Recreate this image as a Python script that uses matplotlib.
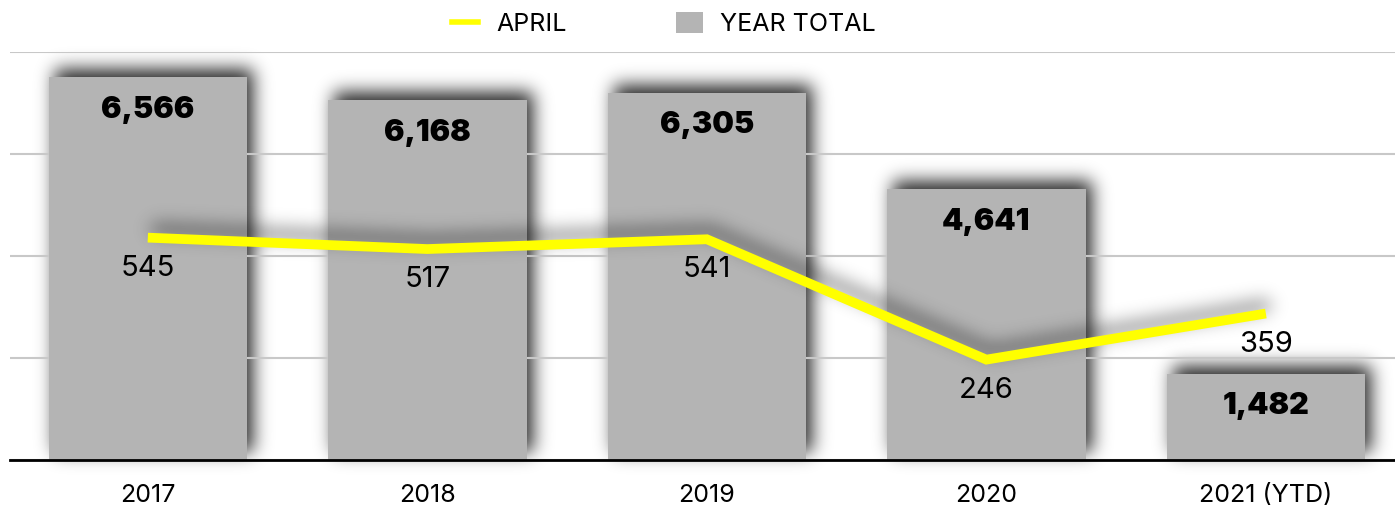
import numpy as np
import matplotlib
matplotlib.use("Agg")
import matplotlib.pyplot as plt
from matplotlib.lines import Line2D
from matplotlib.patches import Patch

# ---- data ----
categories = ["2017", "2018", "2019", "2020", "2021 (YTD)"]
year_total = [6566, 6168, 6305, 4641, 1482]
april = [545, 517, 541, 246, 359]

BAR_COLOR = "#b4b4b4"
LINE_COLOR = "#ffff00"
REG_FONT = ["Inter", "DejaVu Sans"]
BOLD_FONT = ["Inter", "DejaVu Sans"]


def gauss_blur(a, sigma):
    r = int(3 * sigma)
    x = np.arange(-r, r + 1)
    k = np.exp(-x ** 2 / (2.0 * sigma ** 2))
    k /= k.sum()
    out = np.zeros_like(a)
    for i, w in enumerate(k):
        out += w * np.roll(a, i - r, axis=0)
    out2 = np.zeros_like(out)
    for i, w in enumerate(k):
        out2 += w * np.roll(out, i - r, axis=1)
    return out2


class DropShadow:
    def __init__(self, sigma=7, ox=6, oy=8, alpha=0.75):
        self.sigma, self.ox, self.oy, self.alpha = sigma, ox, oy, alpha

    def __call__(self, im, dpi):
        pad = int(3 * self.sigma + max(abs(self.ox), abs(self.oy)) + 2)
        a = np.pad(im[..., 3].astype(float), pad)
        a = gauss_blur(a, self.sigma)
        a = np.roll(a, self.ox, axis=1)
        a = np.roll(a, -self.oy, axis=0)
        out = np.zeros(a.shape + (4,))
        out[..., 3] = np.clip(a * self.alpha, 0, 1)
        return out, -pad, -pad


W, H = 1395, 508
fig = plt.figure(figsize=(W / 100, H / 100), dpi=100)
ax = fig.add_axes([10 / W, 48 / H, (W - 10) / W, 408 / H])
x = np.arange(len(categories))

# bar shadows
shadow_bars = ax.bar(x, year_total, width=0.71, color="black", zorder=0.3)
for p in shadow_bars:
    p.set_agg_filter(DropShadow(sigma=9, ox=6, oy=8, alpha=0.85))
    p.set_rasterized(True)

bars = ax.bar(x, year_total, width=0.71, color=BAR_COLOR, zorder=2)

ax.set_xlim(-0.493, 4.462)
ax.set_ylim(0, 7000)
ax.set_yticks(np.arange(0, 7001, 1750))
ax.yaxis.grid(True, color="#c8c8c8", linewidth=1.5)
ax.set_axisbelow(True)
ax.tick_params(axis="y", left=False, right=False, length=0,
               labelleft=False, labelright=False)
ax.tick_params(axis="x", length=0, pad=17)
ax.set_xticks(x)
ax.set_xticklabels(categories, fontsize=18, family=REG_FONT)
for s in ["top", "left", "right"]:
    ax.spines[s].set_visible(False)
ax.spines["bottom"].set_linewidth(2)
ax.spines["bottom"].set_color("black")
ax.spines["bottom"].set_zorder(6)

for xi, v in zip(x, year_total):
    ax.annotate(f"{v:,}", (xi, v), xytext=(0, -23.5), textcoords="offset points",
                ha="center", va="center", fontsize=22, fontweight="black",
                family=BOLD_FONT, color="black", zorder=5)

# line on secondary axis
ax2 = ax.twinx()
ax2.set_ylim(0, 1000)
ax2.axis("off")
sh, = ax2.plot(x, april, color="black", linewidth=7, solid_capstyle="butt",
               solid_joinstyle="miter", zorder=3)
sh.set_agg_filter(DropShadow(sigma=9, ox=4, oy=9, alpha=0.55))
sh.set_rasterized(True)
ax2.plot(x, april, color=LINE_COLOR, linewidth=7, solid_capstyle="butt",
         solid_joinstyle="miter", zorder=4)
for xi, v in zip(x, april):
    ax2.annotate(f"{v}", (xi, v), xytext=(0, -22), textcoords="offset points",
                 ha="center", va="center", fontsize=21, family=REG_FONT,
                 color="black", zorder=5)

handles = [Line2D([0], [0], color=LINE_COLOR, linewidth=4),
           Patch(facecolor=BAR_COLOR, edgecolor="none")]
fig.legend(handles, ["APRIL", "YEAR TOTAL"], loc="center",
           bbox_to_anchor=(664 / W, 1 - 24 / H), ncol=2, frameon=False,
           prop={"family": REG_FONT, "size": 18}, handlelength=1.05,
           handleheight=0.95, handletextpad=0.7, columnspacing=4.4,
           borderaxespad=0, borderpad=0)

fig.savefig("out.png", dpi=100)
